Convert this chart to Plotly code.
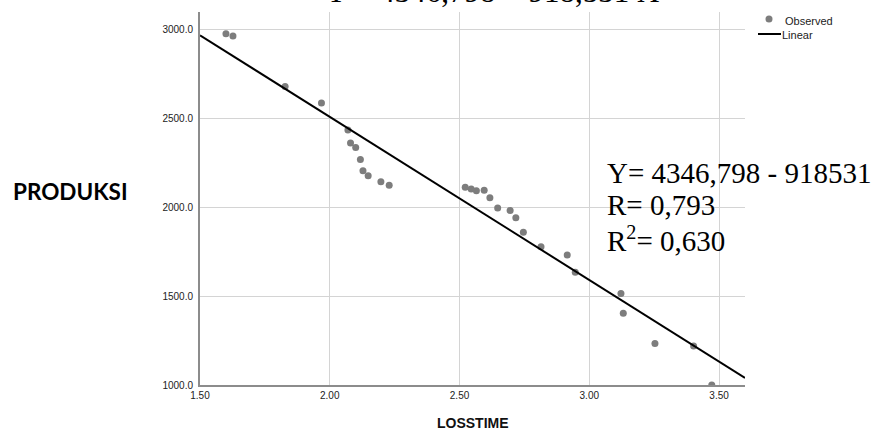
import plotly.graph_objects as go

# Observed data (LOSSTIME vs PRODUKSI)
losstime = [1.600, 1.627, 1.828, 1.968, 2.070, 2.080, 2.100, 2.118, 2.128, 2.148,
            2.197, 2.229, 2.522, 2.545, 2.565, 2.595, 2.617, 2.647, 2.695, 2.717,
            2.746, 2.814, 2.915, 2.946, 3.122, 3.131, 3.253, 3.402, 3.472]
produksi = [2977, 2965, 2681, 2588, 2436, 2363, 2337, 2270, 2206, 2178,
            2144, 2125, 2114, 2103, 2094, 2096, 2054, 1996, 1983, 1942,
            1860, 1779, 1732, 1635, 1515, 1404, 1234, 1219, 1000]

# Linear fit line endpoints
linear_x = [1.50, 3.60]
linear_y = [2969.0, 1040.0]

x_ticks = [1.50, 2.00, 2.50, 3.00, 3.50]
y_ticks = [1000.0, 1500.0, 2000.0, 2500.0, 3000.0]

W, H = 873, 430
L, R, T, B = 200, 128, 12, 45
PW, PH = W - L - R, H - T - B


def px(x):
    return (x - L) / PW


def py(y):
    return (H - B - y) / PH


fig = go.Figure()
fig.add_trace(go.Scatter(x=losstime, y=produksi, mode="markers", name="Observed",
                         marker=dict(color="#7d7d7d", size=7, line=dict(width=0)),
                         showlegend=False))
fig.add_trace(go.Scatter(x=linear_x, y=linear_y, mode="lines", name="Linear",
                         line=dict(color="black", width=2), showlegend=False))

axis_common = dict(showgrid=True, gridcolor="#d4d4d4", gridwidth=1, zeroline=False,
                   showline=True, linecolor="#8c8c8c", linewidth=2, ticks="",
                   tickfont=dict(family="Liberation Sans, Arial", size=10, color="#222"))

fig.update_xaxes(range=[1.5, 3.6], tickvals=x_ticks,
                 ticktext=[f"{v:.2f}" for v in x_ticks], **axis_common)
fig.update_yaxes(range=[1000, 3100], tickvals=y_ticks,
                 ticktext=[f"{v:.1f}" for v in y_ticks], ticklabelstandoff=3, **axis_common)

ann = []
serif = "Liberation Serif, Times New Roman, serif"
# clipped title at top
ann.append(dict(text="Y = 4346,798 − 918,531 X", xref="paper", yref="paper",
                x=px(492), y=py(11), xanchor="center", yanchor="bottom",
                showarrow=False, font=dict(family=serif, size=31, color="black")))
# equation block
for txt, yc in [("Y= 4346,798 - 918531", 173), ("R= 0,793", 205),
                ("R<sup>2</sup>= 0,630", 239)]:
    ann.append(dict(text=txt, xref="paper", yref="paper", x=px(605), y=py(yc),
                    xanchor="left", yanchor="middle", showarrow=False,
                    font=dict(family=serif, size=29, color="black")))
# axis titles
ann.append(dict(text="<b>PRODUKSI</b>", xref="paper", yref="paper", x=px(70), y=py(191),
                xanchor="center", yanchor="middle", showarrow=False,
                font=dict(family="Lato, Open Sans, sans-serif", size=22.5, color="#000")))
ann.append(dict(text="<b>LOSSTIME</b>", xref="paper", yref="paper", x=px(473), y=py(423),
                xanchor="center", yanchor="middle", showarrow=False,
                font=dict(family="Liberation Sans, Arial", size=14, color="#111")))
# legend texts
ann.append(dict(text="Observed", xref="paper", yref="paper", x=px(783), y=py(21),
                xanchor="left", yanchor="middle", showarrow=False,
                font=dict(family="Liberation Sans, Arial", size=11, color="#222")))
ann.append(dict(text="Linear", xref="paper", yref="paper", x=px(780), y=py(35),
                xanchor="left", yanchor="middle", showarrow=False,
                font=dict(family="Liberation Sans, Arial", size=11, color="#222")))

shapes = [
    dict(type="circle", xref="paper", yref="paper", xsizemode="pixel", ysizemode="pixel",
         xanchor=px(769), yanchor=py(19), x0=-3.5, x1=3.5, y0=-3.5, y1=3.5,
         fillcolor="#7d7d7d", line=dict(width=0)),
    dict(type="line", xref="paper", yref="paper", x0=px(758), x1=px(781),
         y0=py(34), y1=py(34), line=dict(color="black", width=2)),
]

fig.update_layout(width=W, height=H, margin=dict(l=L, r=R, t=T, b=B),
                  plot_bgcolor="white", paper_bgcolor="white",
                  annotations=ann, shapes=shapes, showlegend=False)

fig.write_html("out.html", config={"displayModeBar": False},
               post_script="document.body.style.margin='0px';document.body.style.overflow='hidden';")
